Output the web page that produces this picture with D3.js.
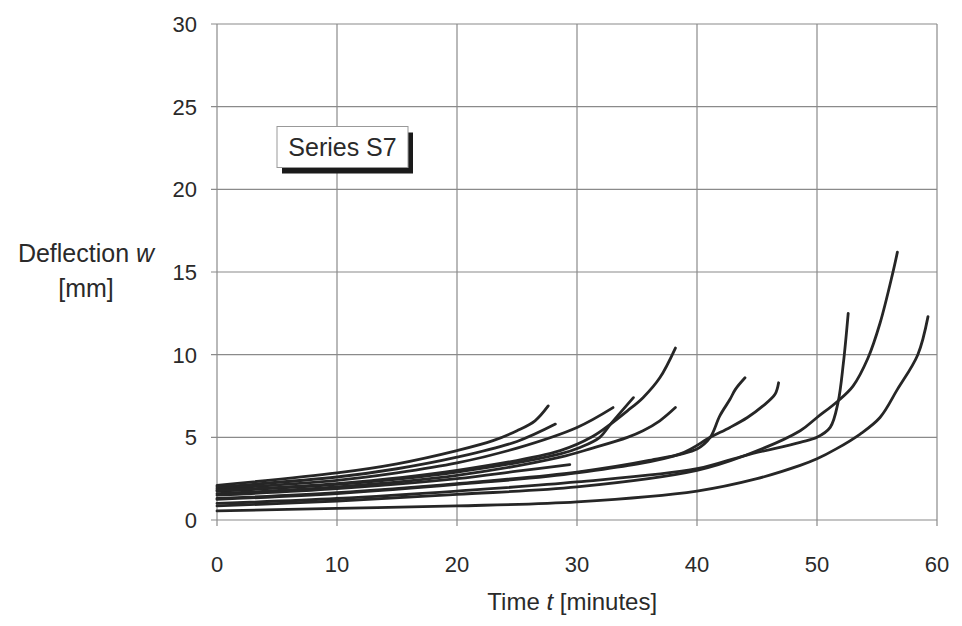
<!DOCTYPE html>
<html>
<head>
<meta charset="utf-8">
<script src="https://cdn.jsdelivr.net/npm/d3@7"></script>
<style>
  body { margin: 0; background: #fff; }
  svg { display: block; }
  text { font-family: "Liberation Sans", Arial, sans-serif; fill: #2a2a2a; }
</style>
</head>
<body>
<div id="chart"></div>
<script>
// axis ticks
const xTicks = [0, 10, 20, 30, 40, 50, 60];
const yTicks = [0, 5, 10, 15, 20, 25, 30];

// deflection curves [time t (min), deflection w (mm)]
const curveA = [[0, 2.1], [10, 2.85], [15, 3.4], [20, 4.2], [23, 4.8], [25, 5.4], [26.5, 6.0], [27.6, 6.9]];
const curveB = [[0, 2.0], [10, 2.6], [15, 3.1], [20, 3.8], [25, 4.75], [28.2, 5.8]];
const curveC = [[0, 1.9], [10, 2.4], [15, 2.85], [20, 3.45], [25, 4.35], [30, 5.6], [33, 6.8]];
const curveD = [[0, 1.75], [10, 2.15], [20, 2.9], [28.6, 4.0], [30.3, 4.4], [31.9, 5.0], [32.8, 5.8], [34.7, 7.4]];
const curveE = [[0, 1.8], [10, 2.2], [20, 3.0], [28.6, 4.2], [31.3, 5.05], [32.8, 5.8], [34.2, 6.6], [35.5, 7.4], [36.9, 8.6], [38.2, 10.4]];
const curveF = [[0, 1.6], [10, 2.0], [20, 2.7], [28.6, 3.8], [31.3, 4.35], [34.2, 5.0], [35.5, 5.4], [36.9, 6.0], [38.2, 6.8]];
const curveG = [[0, 1.5], [10, 1.9], [20, 2.5], [25, 2.95], [29.4, 3.35]];
const curveH = [[0, 1.3], [10, 1.65], [20, 2.2], [30, 2.9], [36, 3.6], [40, 4.3], [41.1, 5.0], [41.9, 6.3], [42.75, 7.3], [43.2, 7.9], [44, 8.6]];
const curveI = [[0, 1.25], [10, 1.6], [20, 2.15], [30, 2.85], [38.6, 4.0], [41.1, 5.0], [42.75, 5.6], [44.2, 6.2], [45.5, 6.9], [46.5, 7.6], [46.8, 8.3]];
const curveJ = [[0, 1.0], [10, 1.3], [20, 1.75], [30, 2.3], [40, 3.1], [44, 3.9], [48.6, 4.7], [50, 5.0], [51.1, 5.6], [51.75, 7.1], [52.2, 9.5], [52.6, 12.5]];
const curveK = [[0, 0.85], [10, 1.15], [20, 1.55], [30, 2.0], [40, 3.0], [44, 3.9], [48.6, 5.4], [50, 6.2], [51.75, 7.2], [53, 8.1], [54.25, 9.8], [55.25, 11.9], [56.3, 14.9], [56.7, 16.2]];
const curveL = [[0, 0.55], [10, 0.7], [20, 0.85], [30, 1.1], [40, 1.75], [45, 2.5], [48.6, 3.3], [50, 3.7], [51.6, 4.3], [53.6, 5.2], [55.25, 6.2], [56.7, 7.9], [58.4, 10.0], [59.25, 12.3]];

const curves = [curveA, curveB, curveC, curveD, curveE, curveF, curveG, curveH, curveI, curveJ, curveK, curveL];
const seriesLabel = "Series S7";

const width = 962, height = 626;
const margin = { top: 24, right: 25, bottom: 106, left: 217 };
const innerW = width - margin.left - margin.right;
const innerH = height - margin.top - margin.bottom;

const svg = d3.select("#chart").append("svg")
  .attr("width", width)
  .attr("height", height);

const x = d3.scaleLinear().domain([0, 60]).range([margin.left, margin.left + innerW]);
const y = d3.scaleLinear().domain([0, 30]).range([margin.top + innerH, margin.top]);

// grid
const grid = svg.append("g").attr("stroke", "#8a8a8a").attr("stroke-width", 1.2);
grid.selectAll("line.v").data(xTicks).join("line")
  .attr("class", "v")
  .attr("x1", d => x(d)).attr("x2", d => x(d))
  .attr("y1", y(0) + 6).attr("y2", y(30));
grid.selectAll("line.h").data(yTicks).join("line")
  .attr("class", "h")
  .attr("x1", x(0) - 6).attr("x2", x(60))
  .attr("y1", d => y(d)).attr("y2", d => y(d));

// tick labels
svg.append("g").selectAll("text").data(xTicks).join("text")
  .attr("x", d => x(d))
  .attr("y", y(0) + 52)
  .attr("text-anchor", "middle")
  .attr("font-size", 22)
  .text(d => d);

svg.append("g").selectAll("text").data(yTicks).join("text")
  .attr("x", x(0) - 20)
  .attr("y", d => y(d) + 8)
  .attr("text-anchor", "end")
  .attr("font-size", 22)
  .text(d => d);

// axis titles
const xt = svg.append("text")
  .attr("x", x(29.6))
  .attr("y", 610)
  .attr("text-anchor", "middle")
  .attr("font-size", 24);
xt.append("tspan").text("Time ");
xt.append("tspan").attr("font-style", "italic").text("t");
xt.append("tspan").text(" [minutes]");

const yt = svg.append("text")
  .attr("x", 86)
  .attr("y", 262)
  .attr("text-anchor", "middle")
  .attr("font-size", 25);
yt.append("tspan").text("Deflection ");
yt.append("tspan").attr("font-style", "italic").text("w");
svg.append("text")
  .attr("x", 86)
  .attr("y", 297)
  .attr("text-anchor", "middle")
  .attr("font-size", 25)
  .text("[mm]");

// curves
const line = d3.line()
  .x(d => x(d[0]))
  .y(d => y(d[1]))
  .curve(d3.curveCatmullRom.alpha(0.5));

svg.append("g").selectAll("path").data(curves).join("path")
  .attr("d", line)
  .attr("fill", "none")
  .attr("stroke", "#262626")
  .attr("stroke-width", 2.8)
  .attr("stroke-linecap", "round");

// series label box with drop shadow
const bx = x(5), by = y(23.8), bw = 131, bh = 41;
const box = svg.append("g");
box.append("rect")
  .attr("x", bx + 5).attr("y", by + 6)
  .attr("width", bw).attr("height", bh)
  .attr("fill", "#1a1a1a");
box.append("rect")
  .attr("x", bx).attr("y", by)
  .attr("width", bw).attr("height", bh)
  .attr("fill", "#fff")
  .attr("stroke", "#999")
  .attr("stroke-width", 1);
box.append("text")
  .attr("x", bx + bw / 2)
  .attr("y", by + 29)
  .attr("text-anchor", "middle")
  .attr("font-size", 25)
  .text(seriesLabel);
</script>
</body>
</html>
